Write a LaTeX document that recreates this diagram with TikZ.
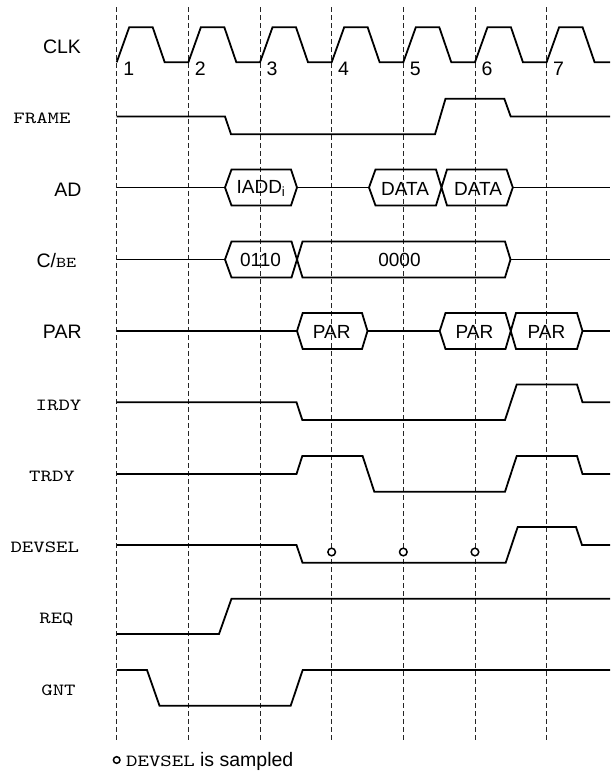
\documentclass[tikz,border=0pt]{standalone}
\usepackage{fontspec}
\setsansfont{Liberation Sans}
\newfontfamily\sigmono[Extension=.otf,FakeStretch=1.28]{lmmono10-regular}
\begin{document}
\begin{tikzpicture}[x=1pt,y=-1pt,
  sig/.style={line width=1.8pt},
  grid/.style={line width=0.8pt,black!85,dash pattern=on 5pt off 3pt},
  lab/.style={font=\sffamily\fontsize{19.5}{22}\selectfont,inner sep=0pt},
  mlab/.style={font=\sigmono\fontsize{17}{20}\selectfont,inner sep=0pt},
  btxt/.style={font=\sffamily\fontsize{19}{22}\selectfont,inner sep=0pt},
  samp/.style={line width=1.5pt,fill=white}]
\useasboundingbox (0,0) rectangle (610,773);
% clock edge grid
\foreach \x in {116.7,188.35,260,331.65,403.3,474.95,546.6}
  \draw[grid] (\x,7.3) -- (\x,741.7);
% labels
\node[lab]  (lclk)  at (62,46.3)   {CLK};
\node[mlab] (lframe) at (42,118.5) {FRAME};
\node[lab]  (lad)   at (68,189.3)  {AD};
\node[lab]  (lcbe)  at (56.4,260.5) {C/{\sigmono\fontsize{15}{16}\selectfont BE}};
\node[lab]  (lpar)  at (62.3,332)  {PAR};
\node[mlab] (lirdy) at (58.5,405)  {IRDY};
\node[mlab] (ltrdy) at (52,476)    {TRDY};
\node[mlab] (ldev)  at (44.8,547.7) {DEVSEL};
\node[mlab] (lreq)  at (56.5,619.3) {REQ};
\node[mlab] (lgnt)  at (58.5,690.7) {GNT};
% clock
\draw[sig] (116.7,62.3) \foreach \k in {1,...,6}{ -- ++(12.5,-35) -- ++(23.5,0) -- ++(12,35) -- ++(23.65,0) }
   -- ++(12.5,-35) -- ++(23.5,0) -- ++(12,35) -- (610,62.3);
\foreach \x/\n in {116.7/1,188.35/2,260/3,331.65/4,403.3/5,474.95/6,546.6/7}
  \node[lab] (n\n) at (\x+12,68.5) {\n};
% FRAME
\draw[sig] (116.7,116.5) -- (225,116.5) -- (231,134.3) -- (435,134.3) -- (445.5,98.7)
   -- (504.3,98.7) -- (510.7,116.5) -- (610,116.5);
% AD
\draw[sig] (116.7,187.5) -- (225,187.5);
\draw[sig] (225,187.5) -- (231.5,169.5) -- (291,169.5) -- (297,187.5) -- (291,205.5) -- (231.5,205.5) -- cycle;
\draw[sig] (297,187.5) -- (369,187.5);
\draw[sig] (369,187.5) -- (375.5,169.5) -- (436,169.5) -- (447,205.5) -- (506.6,205.5) -- (512.8,187.5)
   -- (506.6,169.5) -- (447,169.5) -- (436,205.5) -- (375.5,205.5) -- cycle;
\draw[sig] (512.8,187.5) -- (610,187.5);
\node[btxt] (tiadd) at (261,188.5) {IADD\textsubscript{i}};
\node[btxt] (tdata1) at (405,188.5) {DATA};
\node[btxt] (tdata2) at (478,188.5) {DATA};
% C/BE
\draw[sig] (116.7,259.5) -- (225,259.5);
\draw[sig] (225,259.5) -- (231.5,241.5) -- (291.5,241.5) -- (302.5,277.5) -- (505,277.5) -- (510.5,259.5)
   -- (505,241.5) -- (302.5,241.5) -- (291.5,277.5) -- (231.5,277.5) -- cycle;
\draw[sig] (510.5,259.5) -- (610,259.5);
\node[btxt] (t0110) at (260.5,260) {0110};
\node[btxt] (t0000) at (399.5,260) {0000};
% PAR
\draw[sig] (116.7,331) -- (297,331);
\draw[sig] (297,331) -- (302.7,313) -- (362,313) -- (367.5,331) -- (362,349) -- (302.7,349) -- cycle;
\draw[sig] (367.5,331) -- (439.7,331);
\draw[sig] (439.7,331) -- (445.5,313) -- (505.5,313) -- (516,349) -- (577,349) -- (582.5,331)
   -- (577,313) -- (516,313) -- (505.5,349) -- (445.5,349) -- cycle;
\draw[sig] (582.5,331) -- (610,331);
\node[btxt] (tpar1) at (331.7,332) {PAR};
\node[btxt] (tpar2) at (474.5,332) {PAR};
\node[btxt] (tpar3) at (546.5,332) {PAR};
% IRDY
\draw[sig] (116.7,402.3) -- (296.5,402.3) -- (302.3,420) -- (505,420) -- (516.7,384.5)
   -- (577,384.5) -- (582.5,402.3) -- (610,402.3);
% TRDY
\draw[sig] (116.7,474) -- (296.5,474) -- (302.3,456) -- (362.6,456) -- (374.3,491.7)
   -- (505,491.7) -- (516.7,456) -- (577,456) -- (582.5,474) -- (610,474);
% DEVSEL
\draw[sig] (116.7,545) -- (296.5,545) -- (302.5,562.7) -- (505.7,562.7) -- (517.7,527)
   -- (576,527) -- (582,545) -- (610,545);
\foreach \x/\m in {331.65/a,403.3/b,474.95/c}
  \draw[samp] (\x,552) circle[radius=3.8];
% REQ
\draw[sig] (116.7,634) -- (219,634) -- (231.5,598.7) -- (610,598.7);
% GNT
\draw[sig] (116.7,670) -- (147,670) -- (159.5,705.7) -- (290.7,705.7) -- (302.7,670) -- (610,670);
% legend
\draw[samp] (116.7,760) circle[radius=3.3];
\node[lab,anchor=west] (legend) at (126,761.5) {{\sigmono\fontsize{17}{20}\selectfont DEVSEL} is sampled};
\end{tikzpicture}
\end{document}
